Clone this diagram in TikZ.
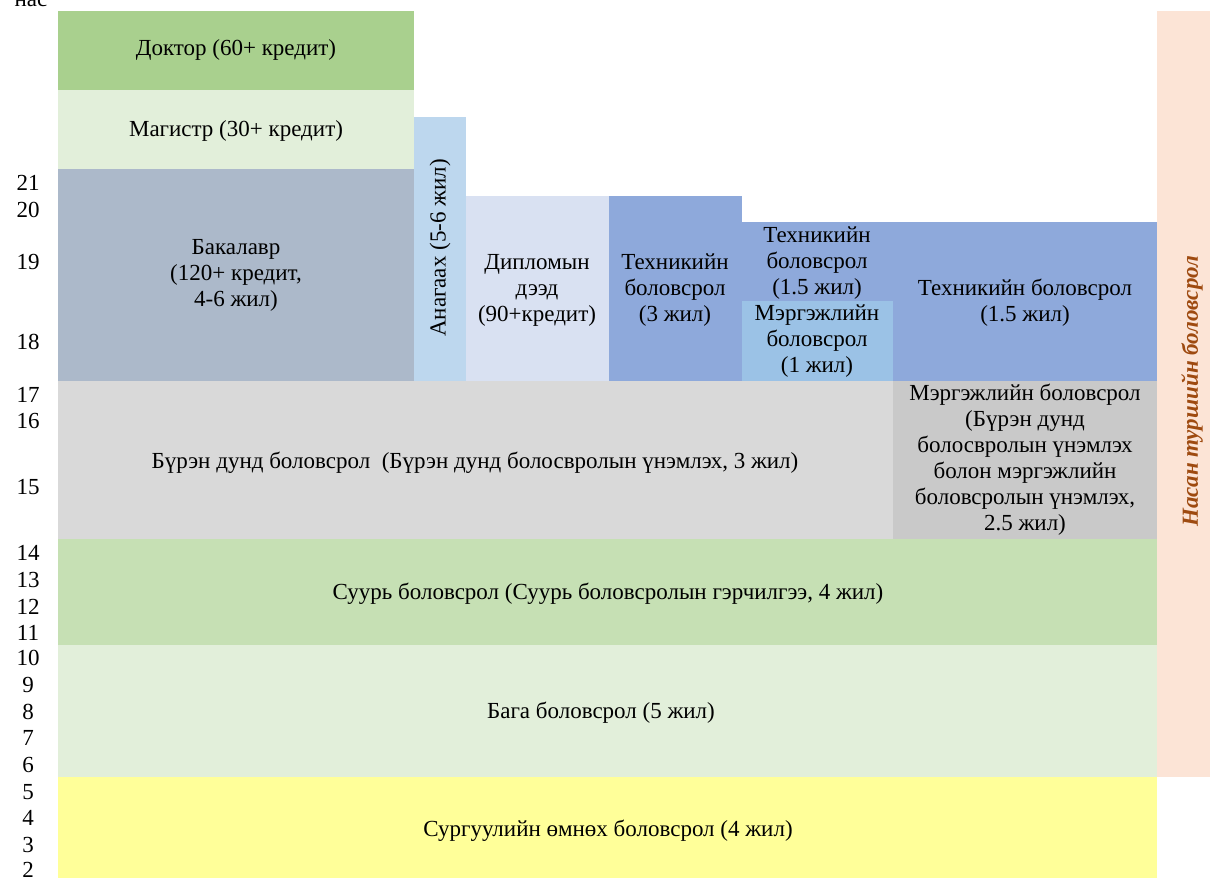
\documentclass[tikz,border=0pt]{standalone}
\usepackage{fontspec}
\setmainfont{Liberation Serif}
\usepackage{xcolor}

\definecolor{dokGreen}{HTML}{A9D08E}
\definecolor{paleGreen}{HTML}{E2EFDA}
\definecolor{midGreen}{HTML}{C6E0B4}
\definecolor{bakGray}{HTML}{ACB9CA}
\definecolor{anaBlue}{HTML}{BDD7EE}
\definecolor{dipBlue}{HTML}{D9E1F2}
\definecolor{tekBlue}{HTML}{8EA9DB}
\definecolor{merBlue}{HTML}{9BC2E6}
\definecolor{lightGray}{HTML}{D9D9D9}
\definecolor{darkGray}{HTML}{C9C9C9}
\definecolor{preYellow}{HTML}{FFFF99}
\definecolor{lifePeach}{HTML}{FCE4D6}
\definecolor{lifeBrown}{HTML}{9E4A10}

\begin{document}
\begin{tikzpicture}[x=1pt, y=-1pt,
    lbl/.style={align=center, inner sep=0pt, font=\fontsize{23}{26}\selectfont},
    age/.style={inner sep=0pt, font=\fontsize{23}{26}\selectfont}]
    \useasboundingbox (0,0) rectangle (1210,878);

    % Draw blocks
    \fill[dokGreen] (58,11) rectangle (414,90);
    \fill[paleGreen] (58,90) rectangle (414,169);
    \fill[bakGray] (58,169) rectangle (414,381);
    \fill[anaBlue] (414,117) rectangle (466,381);
    \fill[dipBlue] (466,196) rectangle (609,381);
    \fill[tekBlue] (609,196) rectangle (742,381);
    \fill[tekBlue] (742,222) rectangle (1157,381);
    \fill[merBlue] (742,301) rectangle (893,381);
    \fill[lightGray] (58,381) rectangle (893,539);
    \fill[darkGray] (893,381) rectangle (1157,539);
    \fill[midGreen] (58,539) rectangle (1157,645);
    \fill[paleGreen] (58,645) rectangle (1157,777);
    \fill[preYellow] (58,777) rectangle (1157,878);
    \fill[lifePeach] (1157,11) rectangle (1210,777);

    % Labels
    \node[lbl] (doktor) at (236,50) {Доктор (60+ кредит)};
    \node[lbl] (magistr) at (236,131) {Магистр (30+ кредит)};
    \node[lbl] (bakalavr) at (236,275) {Бакалавр\\(120+ кредит,\\4-6 жил)};
    \node[lbl, rotate=90] (anagaah) at (440,248) {Анагаах (5-6 жил)};
    \node[lbl] (diplom) at (537,290) {Дипломын\\дээд\\(90+кредит)};
    \node[lbl] (tekh3) at (675,290) {Техникийн\\боловсрол\\(3 жил)};
    \node[lbl] (tekhA) at (817,263) {Техникийн\\боловсрол\\(1.5 жил)};
    \node[lbl] (merg1) at (817,341) {Мэргэжлийн\\боловсрол\\(1 жил)};
    \node[lbl] (tekhB) at (1025,303) {Техникийн боловсрол\\(1.5 жил)};
    \node[lbl] (burenDund) at (475,463) {Бүрэн дунд боловсрол\ \ (Бүрэн дунд болосвролын үнэмлэх, 3 жил)};
    \node[lbl] (mergDund) at (1025,460) {Мэргэжлийн боловсрол\\(Бүрэн дунд\\болосвролын үнэмлэх\\болон мэргэжлийн\\боловсролын үнэмлэх,\\2.5 жил)};
    \node[lbl] (suur) at (608,594) {Суурь боловсрол (Суурь боловсролын гэрчилгээ, 4 жил)};
    \node[lbl] (baga) at (601,713) {Бага боловсрол (5 жил)};
    \node[lbl] (omnoh) at (608,831) {Сургуулийн өмнөх боловсрол (4 жил)};
    \node[lbl, rotate=90, text=lifeBrown, font=\fontsize{23}{26}\selectfont\bfseries\itshape] (nasan) at (1192,391) {Насан туршийн боловсрол};

    % Age axis
    \node[age, anchor=base] (nas) at (31,6) {нас};
    \foreach \a/\y in {21/183, 20/210, 19/262, 18/342, 17/395, 16/421, 15/487,
        14/553, 13/580, 12/607, 11/633, 10/658, 9/685, 8/712, 7/738,
        6/765, 5/792, 4/818, 3/845, 2/870}
        \node[age] (age\a) at (28,\y) {\a};
\end{tikzpicture}
\end{document}
